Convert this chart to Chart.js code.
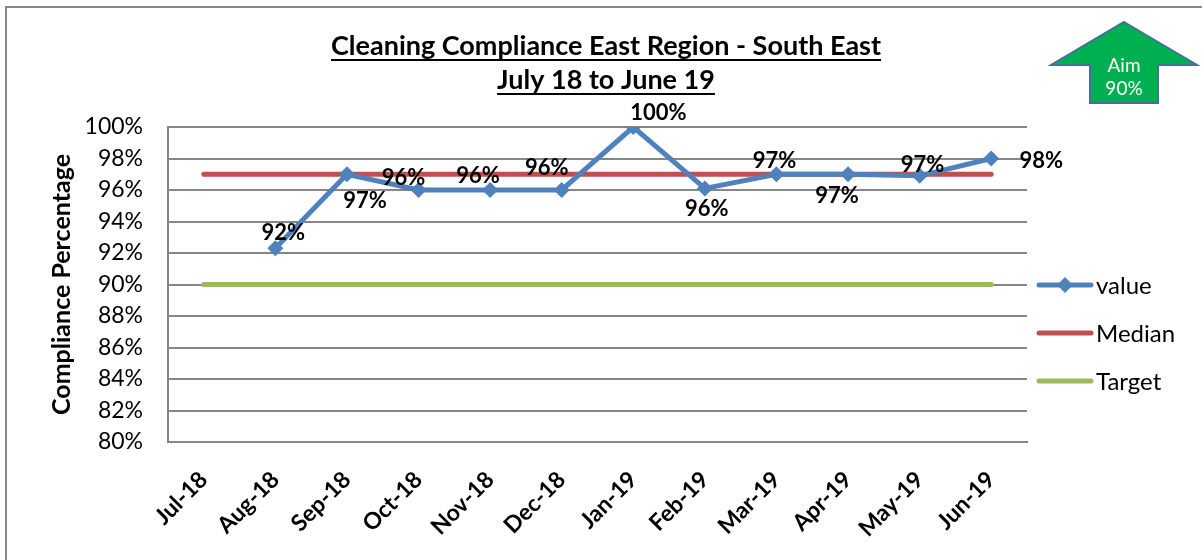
<!DOCTYPE html>
<html lang="en">
<head>
    <meta charset="UTF-8">
    <title>Cleaning Compliance</title>
    <style>
        body {
            margin: 0;
            background: #ffffff;
        }
        canvas {
            display: block;
        }
    </style>
</head>
<body>
    <canvas id="complianceChart" width="1202" height="560"></canvas>

    <script src="https://cdn.jsdelivr.net/npm/chart.js"></script>
    <script>
        // chart data
        const months = ['Jul-18', 'Aug-18', 'Sep-18', 'Oct-18', 'Nov-18', 'Dec-18',
                        'Jan-19', 'Feb-19', 'Mar-19', 'Apr-19', 'May-19', 'Jun-19'];
        const values = [null, 92.3, 97, 96, 96, 96, 100, 96.1, 97, 97, 96.9, 98];
        const median = [97, 97, 97, 97, 97, 97, 97, 97, 97, 97, 97, 97];
        const target = [90, 90, 90, 90, 90, 90, 90, 90, 90, 90, 90, 90];
        const titleLines = ['Cleaning Compliance East Region - South East', 'July 18 to June 19'];

        // where each value label sits relative to its point (dx, dy)
        const labelOffsets = [null, [8, -15], [18, 27], [-15, -12], [-12, -14], [-15, -22],
                              [25, -14], [2, 20], [-2, -13], [-11, 22], [3, -11], [50, 2]];

        const FONT = 'Lato, "Open Sans", sans-serif';
        const BLUE = '#4F81BD';
        const RED = '#C0504D';
        const GREEN = '#9BBB59';

        const extras = {
            id: 'extras',
            afterDatasetsDraw(chart) {
                const ctx = chart.ctx;
                const meta = chart.getDatasetMeta(0);
                ctx.save();
                ctx.font = 'bold 22px ' + FONT;
                ctx.fillStyle = '#000';
                ctx.textAlign = 'center';
                ctx.textBaseline = 'middle';
                meta.data.forEach((pt, i) => {
                    if (values[i] == null) return;
                    const off = labelOffsets[i];
                    ctx.fillText(Math.round(values[i]) + '%', pt.x + off[0], pt.y + off[1]);
                });
                ctx.restore();
            },
            afterDraw(chart) {
                const ctx = chart.ctx;
                ctx.save();

                // outer frame
                ctx.strokeStyle = '#868686';
                ctx.lineWidth = 2;
                ctx.strokeRect(6, 7, 1400, 700);

                // underlined title
                ctx.fillStyle = '#000';
                ctx.font = 'bold 27px ' + FONT;
                ctx.textAlign = 'center';
                ctx.textBaseline = 'alphabetic';
                const cx = 606;
                const baselines = [55, 89];
                titleLines.forEach((t, i) => {
                    ctx.fillText(t, cx, baselines[i]);
                    const w = ctx.measureText(t).width;
                    ctx.fillRect(cx - w / 2, baselines[i] + 4, w, 2);
                });

                // legend
                const items = [
                    { text: 'value', color: BLUE, marker: true },
                    { text: 'Median', color: RED },
                    { text: 'Target', color: GREEN }
                ];
                ctx.font = '24px ' + FONT;
                ctx.textAlign = 'left';
                ctx.textBaseline = 'middle';
                items.forEach((it, i) => {
                    const y = 285 + i * 48;
                    ctx.strokeStyle = it.color;
                    ctx.lineWidth = 5;
                    ctx.lineCap = 'round';
                    ctx.beginPath();
                    ctx.moveTo(1039, y);
                    ctx.lineTo(1091, y);
                    ctx.stroke();
                    if (it.marker) {
                        ctx.fillStyle = it.color;
                        ctx.beginPath();
                        ctx.moveTo(1065, y - 8);
                        ctx.lineTo(1073, y);
                        ctx.lineTo(1065, y + 8);
                        ctx.lineTo(1057, y);
                        ctx.closePath();
                        ctx.fill();
                    }
                    ctx.fillStyle = '#000';
                    ctx.fillText(it.text, 1096, y + 1);
                });

                // aim arrow
                ctx.beginPath();
                ctx.moveTo(1124, 22);
                ctx.lineTo(1197, 65);
                ctx.lineTo(1158, 65);
                ctx.lineTo(1158, 103);
                ctx.lineTo(1090, 103);
                ctx.lineTo(1090, 65);
                ctx.lineTo(1051, 65);
                ctx.closePath();
                ctx.fillStyle = '#00B050';
                ctx.fill();
                ctx.strokeStyle = '#41719C';
                ctx.lineWidth = 2;
                ctx.lineCap = 'butt';
                ctx.stroke();
                ctx.fillStyle = '#fff';
                ctx.font = '19px ' + FONT;
                ctx.textAlign = 'center';
                ctx.fillText('Aim', 1124, 66);
                ctx.fillText('90%', 1124, 89);

                ctx.restore();
            }
        };

        new Chart(document.getElementById('complianceChart'), {
            type: 'line',
            data: {
                labels: months,
                datasets: [{
                    label: 'value',
                    data: values,
                    borderColor: BLUE,
                    backgroundColor: BLUE,
                    borderWidth: 5,
                    pointStyle: 'rectRot',
                    pointRadius: 8,
                    pointBorderWidth: 0,
                    tension: 0
                }, {
                    label: 'Median',
                    data: median,
                    borderColor: RED,
                    borderWidth: 5,
                    borderCapStyle: 'round',
                    pointRadius: 0
                }, {
                    label: 'Target',
                    data: target,
                    borderColor: GREEN,
                    borderWidth: 5,
                    borderCapStyle: 'round',
                    pointRadius: 0
                }]
            },
            options: {
                responsive: false,
                animation: false,
                devicePixelRatio: 1,
                layout: { padding: { left: 40, right: 175, top: 127, bottom: 0 } },
                plugins: {
                    legend: { display: false },
                    tooltip: { enabled: false }
                },
                scales: {
                    y: {
                        min: 80,
                        max: 100,
                        ticks: {
                            stepSize: 2,
                            callback: v => v + '%',
                            color: '#000',
                            font: { family: FONT, size: 23 },
                            padding: 25
                        },
                        grid: { color: '#868686', lineWidth: 2, drawTicks: false },
                        border: { color: '#868686', width: 2 },
                        title: {
                            display: true,
                            text: 'Compliance Percentage',
                            color: '#000',
                            font: { family: FONT, size: 25, weight: 'bold' },
                            padding: { top: 7, bottom: 0 }
                        },
                        afterFit: scale => { scale.width = 128; }
                    },
                    x: {
                        offset: true,
                        ticks: {
                            maxRotation: 45,
                            minRotation: 45,
                            color: '#000',
                            font: { family: FONT, size: 23, weight: 'bold' },
                            padding: 24
                        },
                        grid: { color: 'transparent', drawTicks: false },
                        border: { color: '#868686', width: 2 },
                        afterFit: scale => { scale.height = 118; }
                    }
                }
            },
            plugins: [extras]
        });
    </script>
</body>
</html>
